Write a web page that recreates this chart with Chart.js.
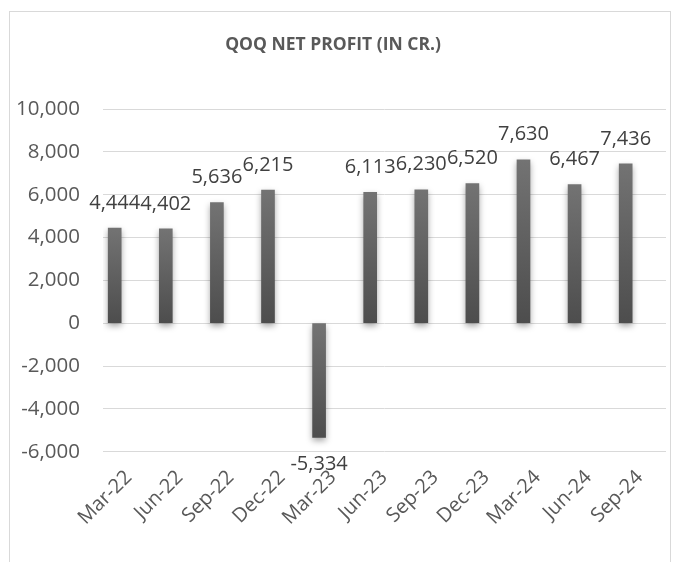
<!DOCTYPE html>
<html>
<head>
<meta charset="utf-8">
<script src="https://cdn.jsdelivr.net/npm/chart.js@4.4.1/dist/chart.umd.min.js"></script>
<style>
  html, body { margin: 0; padding: 0; background: #fff; }
  #wrap { position: relative; width: 676px; height: 562px; overflow: hidden; }
  #frame { position: absolute; left: 9px; top: 11px; width: 662px; height: 570px; border: 1px solid #d9d9d9; box-sizing: border-box; }
  #c { position: absolute; left: 0; top: 0; }
</style>
</head>
<body>
<div id="wrap">
  <div id="frame"></div>
  <canvas id="c" width="676" height="562"></canvas>
</div>
<script>
const quarters = ["Mar-22", "Jun-22", "Sep-22", "Dec-22", "Mar-23", "Jun-23", "Sep-23", "Dec-23", "Mar-24", "Jun-24", "Sep-24"];
const netProfit = [4444, 4402, 5636, 6215, -5334, 6113, 6230, 6520, 7630, 6467, 7436];
const yTicks = [-6000, -4000, -2000, 0, 2000, 4000, 6000, 8000, 10000];

const FONT = "'Open Sans', 'Liberation Sans', sans-serif";

// shaded bars: lighter at top, darker at bottom
function barFill(ctx) {
  const chart = ctx.chart;
  const y = chart.scales && chart.scales.y;
  if (!chart.chartArea || !y || ctx.raw === undefined) return "#5f5f5f";
  const v = ctx.raw.y;
  const top = y.getPixelForValue(Math.max(v, 0));
  const bot = y.getPixelForValue(Math.min(v, 0));
  if (!isFinite(top) || !isFinite(bot) || top === bot) return "#5f5f5f";
  const g = chart.ctx.createLinearGradient(0, top, 0, bot);
  g.addColorStop(0, "#737373");
  g.addColorStop(1, "#4d4d4d");
  return g;
}

const barLook = {
  id: "barLook",
  beforeDatasetsDraw(chart) {
    const c = chart.ctx;
    c.save();
    c.shadowColor = "rgba(0,0,0,0.35)";
    c.shadowBlur = 6;
    c.shadowOffsetY = 3;
  },
  afterDatasetsDraw(chart) {
    chart.ctx.restore();
    const c = chart.ctx;
    const meta = chart.getDatasetMeta(0);
    c.save();
    c.font = "20px " + FONT;
    c.fillStyle = "#404040";
    c.textAlign = "center";
    c.textBaseline = "middle";
    meta.data.forEach((bar, i) => {
      const v = netProfit[i];
      const ty = v >= 0 ? bar.y - 25 : bar.y + 27;
      c.fillText(v.toLocaleString("en-US"), bar.x, ty);
    });
    c.restore();
  }
};

new Chart(document.getElementById("c"), {
  type: "bar",
  data: {
    datasets: [{
      data: quarters.map((q, i) => ({ x: i, y: netProfit[i] })),
      backgroundColor: barFill,
      borderWidth: 0,
      barThickness: 13
    }]
  },
  plugins: [barLook],
  options: {
    responsive: false,
    animation: false,
    layout: { padding: { left: 0, right: 10, top: 0, bottom: 0 } },
    plugins: {
      legend: { display: false },
      tooltip: { enabled: false },
      title: {
        display: true,
        text: "QOQ NET PROFIT (IN CR.)",
        color: "#595959",
        font: { family: FONT, size: 17.5, weight: "bold" },
        padding: { top: 35, bottom: 53 }
      }
    },
    scales: {
      x: {
        type: "linear",
        offset: false,
        min: -0.229,
        max: 10.789,
        grid: { display: false, offset: false },
        border: { display: false },
        afterFit(s) { s.height = 110.3; },
        ticks: {
          stepSize: 1,
          includeBounds: false,
          autoSkip: false,
          maxTicksLimit: 30,
          minRotation: 45,
          maxRotation: 45,
          padding: 6,
          labelOffset: 14,
          color: "#595959",
          font: { family: FONT, size: 20 },
          callback: (v) => Number.isInteger(v) ? quarters[v] : ""
        }
      },
      y: {
        min: -6000,
        max: 10000,
        afterFit(s) { s.width = 103; },
        afterBuildTicks(s) { s.ticks = yTicks.map(v => ({ value: v })); },
        grid: { color: "#d9d9d9", lineWidth: 1, drawTicks: false },
        border: { display: false },
        ticks: {
          padding: 23,
          color: "#595959",
          font: { family: FONT, size: 20.5 },
          callback: (v) => v.toLocaleString("en-US")
        }
      }
    }
  }
});
</script>
</body>
</html>
